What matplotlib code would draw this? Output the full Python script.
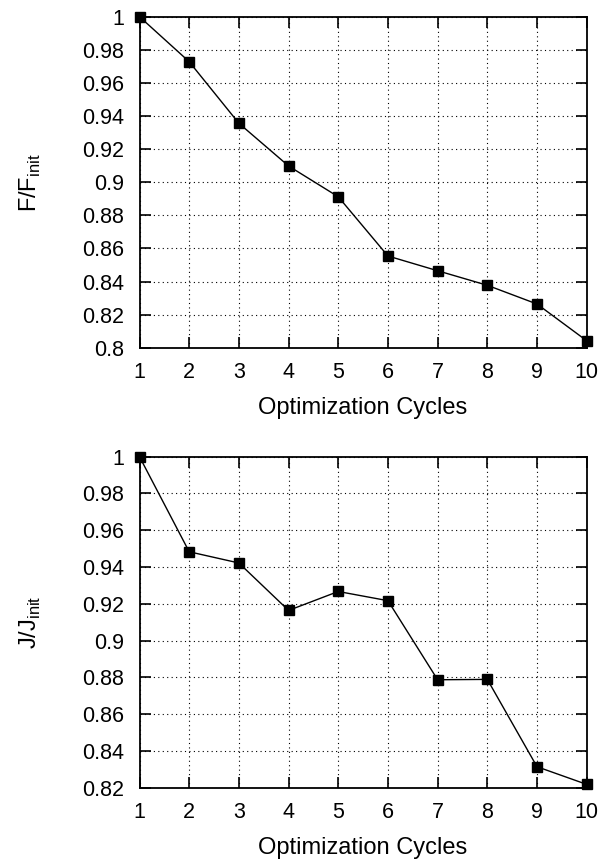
import matplotlib
matplotlib.use("Agg")
import matplotlib.pyplot as plt

plt.rcParams['font.family'] = ['Liberation Sans', 'DejaVu Sans']

cycles = [1, 2, 3, 4, 5, 6, 7, 8, 9, 10]
f_ratio = [1.0, 0.9728, 0.9356, 0.9098, 0.8912, 0.8554, 0.8465, 0.8377, 0.8264, 0.8042]
j_ratio = [1.0, 0.9483, 0.9422, 0.9164, 0.9267, 0.9217, 0.8787, 0.8789, 0.8314, 0.8218]

f_yticks = [0.8, 0.82, 0.84, 0.86, 0.88, 0.9, 0.92, 0.94, 0.96, 0.98, 1.0]
f_ylabels = ['0.8', '0.82', '0.84', '0.86', '0.88', '0.9', '0.92', '0.94', '0.96', '0.98', '1']
j_yticks = [0.82, 0.84, 0.86, 0.88, 0.9, 0.92, 0.94, 0.96, 0.98, 1.0]
j_ylabels = ['0.82', '0.84', '0.86', '0.88', '0.9', '0.92', '0.94', '0.96', '0.98', '1']

W, H = 604, 863
fig = plt.figure(figsize=(W / 100, H / 100), dpi=100)
TFS = 15.5
LFS = 17

def make_ax(top, bottom, x, y, yticks, ylabels, ylabel):
    left, right = 139.5, 586.7
    ax = fig.add_axes([left / W, 1 - bottom / H, (right - left) / W, (bottom - top) / H])
    ax.plot(x, y, color='black', lw=1.0, marker='s', markersize=7, clip_on=False, zorder=5)
    ax.set_xlim(1, 10)
    ax.set_ylim(yticks[0], yticks[-1])
    ax.set_xticks(cycles)
    ax.set_xticklabels([str(c) for c in cycles])
    ax.set_yticks(yticks)
    ax.set_yticklabels(ylabels)
    ax.tick_params(direction='in', length=8, width=1.2, top=True, right=True,
                   labelsize=TFS)
    ax.tick_params(axis='y', pad=11)
    ax.tick_params(axis='x', pad=10.5)
    ax.grid(True, color='black', linestyle=(0, (1, 3)), linewidth=0.8)
    for s in ax.spines.values():
        s.set_linewidth(1.3)
    ax.set_xlabel('Optimization Cycles', fontsize=LFS, labelpad=10)
    ax.set_ylabel(ylabel, fontsize=LFS, labelpad=28)
    return ax

make_ax(16.7, 347.7, cycles, f_ratio, f_yticks, f_ylabels, r'F/F$_{\mathregular{init}}$')
make_ax(456.7, 787.7, cycles, j_ratio, j_yticks, j_ylabels, r'J/J$_{\mathregular{init}}$')

fig.savefig('out.png', dpi=100)
